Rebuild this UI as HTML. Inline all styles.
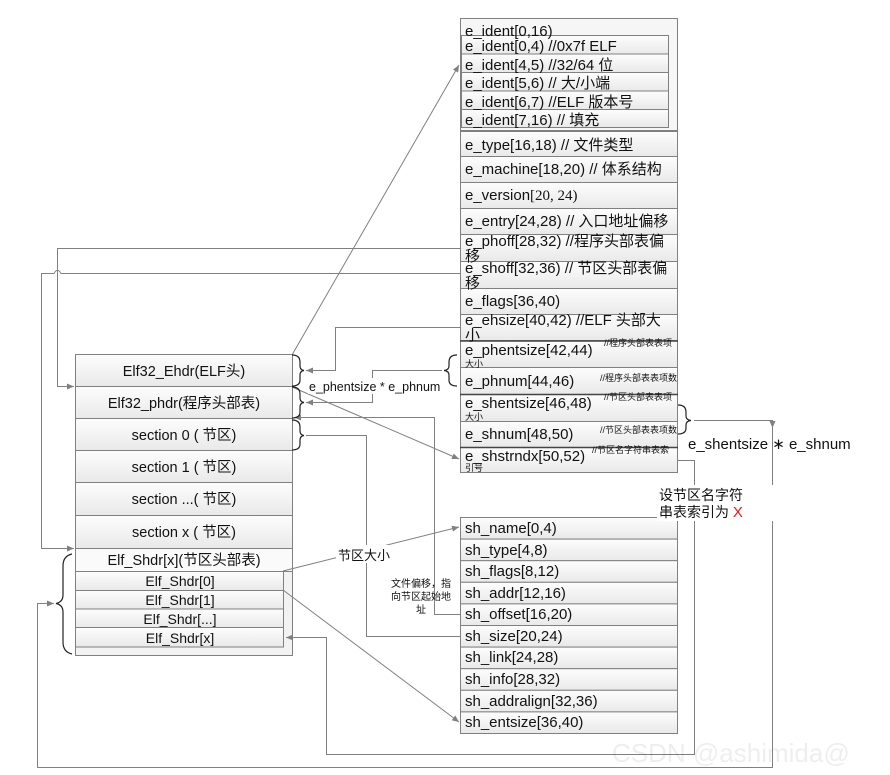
<!DOCTYPE html>
<html><head><meta charset="utf-8"><style>
html,body{margin:0;padding:0;background:#fff;width:890px;height:775px;overflow:hidden}
svg text{font-family:"Liberation Sans","Noto Sans CJK SC",sans-serif;fill:#111}
</style></head><body>
<svg width="890" height="775" viewBox="0 0 890 775" xmlns="http://www.w3.org/2000/svg">
<defs>
<linearGradient id="g" x1="0" y1="0" x2="0" y2="1"><stop offset="0" stop-color="#fdfdfd"/><stop offset="1" stop-color="#e9e9e9"/></linearGradient>
<marker id="a" markerWidth="8" markerHeight="8" refX="7" refY="4" orient="auto" markerUnits="userSpaceOnUse"><path d="M0,1 L7,4 L0,7 z" fill="#808080"/></marker>
</defs>
<g stroke="#808080" stroke-width="1" fill="url(#g)">
<rect x="460.5" y="18.5" width="217" height="112" fill="#f6f6f6"/>
<rect x="461.5" y="35.5" width="207" height="18.5"/>
<rect x="461.5" y="54" width="207" height="18.5"/>
<rect x="461.5" y="72.5" width="207" height="18.5"/>
<rect x="461.5" y="91" width="207" height="18.5"/>
<rect x="461.5" y="109.5" width="207" height="18"/>
<rect x="460.5" y="131.5" width="217" height="25"/>
<rect x="460.5" y="156.5" width="217" height="26"/>
<rect x="460.5" y="182.5" width="217" height="26"/>
<rect x="460.5" y="208.5" width="217" height="26"/>
<rect x="460.5" y="234.5" width="217" height="27"/>
<rect x="460.5" y="261.5" width="217" height="27"/>
<rect x="460.5" y="288.5" width="217" height="26"/>
<rect x="460.5" y="314.5" width="217" height="26"/>
<rect x="460.5" y="340.5" width="217" height="27"/>
<rect x="460.5" y="367.5" width="217" height="27"/>
<rect x="460.5" y="394.5" width="217" height="27"/>
<rect x="460.5" y="421.5" width="217" height="26"/>
<rect x="460.5" y="447.5" width="217" height="25"/>
<rect x="75.5" y="354.5" width="217" height="301" fill="#f2f2f2"/>
<rect x="75.5" y="354.5" width="217" height="32"/>
<rect x="75.5" y="386.5" width="217" height="32"/>
<rect x="75.5" y="418.5" width="217" height="32"/>
<rect x="75.5" y="450.5" width="217" height="32"/>
<rect x="75.5" y="482.5" width="217" height="33"/>
<rect x="75.5" y="515.5" width="217" height="33"/>
<rect x="75.5" y="548.5" width="217" height="23" fill="#fafafa"/>
<rect x="75.5" y="571.5" width="208" height="19"/>
<rect x="75.5" y="590.5" width="208" height="18.5"/>
<rect x="75.5" y="609" width="208" height="18.5"/>
<rect x="75.5" y="627.5" width="208" height="19.5"/>
<rect x="460.5" y="517.5" width="217" height="21.6"/>
<rect x="460.5" y="539.1" width="217" height="21.6"/>
<rect x="460.5" y="560.7" width="217" height="21.6"/>
<rect x="460.5" y="582.3" width="217" height="21.6"/>
<rect x="460.5" y="603.9" width="217" height="21.6"/>
<rect x="460.5" y="625.5" width="217" height="21.6"/>
<rect x="460.5" y="647.1" width="217" height="21.6"/>
<rect x="460.5" y="668.7" width="217" height="21.6"/>
<rect x="460.5" y="690.3" width="217" height="21.6"/>
<rect x="460.5" y="711.9" width="217" height="21.6"/>
</g>
<g stroke="#444" stroke-width="1.5"><line x1="460" y1="341" x2="678" y2="341"/><line x1="460" y1="394.5" x2="678" y2="394.5"/><line x1="460" y1="447.5" x2="678" y2="447.5"/></g>
<g stroke="#808080" stroke-width="1" fill="none">
<line x1="292" y1="355" x2="459" y2="65" marker-end="url(#a)"/>
<polyline points="460,248.5 57.5,248.5 57.5,386.5 74,386.5" marker-end="url(#a)"/>
<path d="M460,273.5 L61,273.5 Q57.5,267 54,273.5 L41.5,273.5 L41.5,548.5 L74,548.5" marker-end="url(#a)"/>
<polyline points="460,327.5 335.5,327.5 335.5,370.5 306,370.5" marker-end="url(#a)"/>
<polyline points="442,370.5 372.5,370.5 372.5,402.5 306,402.5" marker-end="url(#a)"/>
<polyline points="306,435.5 366.5,435.5 366.5,636.5 460,636.5"/>
<polyline points="460,614.5 434.5,614.5 434.5,417.5 294,417.5" marker-end="url(#a)"/>
<line x1="292" y1="387" x2="459" y2="459" marker-end="url(#a)"/>
<line x1="283" y1="571" x2="459" y2="527" marker-end="url(#a)"/>
<line x1="283" y1="590" x2="459" y2="722" marker-end="url(#a)"/>
<polyline points="678,460.5 694.5,460.5 694.5,754.5 326.5,754.5 326.5,637.5 286,637.5" marker-end="url(#a)"/>
<polyline points="694,420.5 772.5,420.5 772.5,767.5 37.5,767.5 37.5,603.5 54,603.5" marker-end="url(#a)"/>
<line x1="772.5" y1="420" x2="772.5" y2="428" marker-end="url(#a)"/>
</g>
<g stroke="#222" stroke-width="1.2" fill="none">
<path d="M292,355 Q300,355 300,362 L300,366 Q300,370 304,370.5 Q300,371 300,375 L300,380 Q300,386 292,386"/>
<path d="M292,387 Q300,387 300,394 L300,398 Q300,402 304,402.5 Q300,403 300,407 L300,412 Q300,418 292,418"/>
<path d="M292,420 Q300,420 300,427 L300,431 Q300,435 304,435.5 Q300,436 300,440 L300,444 Q300,450 292,450"/>
<path d="M457,355 Q449,355 449,362 L449,366 Q449,370 444,370.5 Q449,371 449,375 L449,380 Q449,386 457,386"/>
<path d="M678,405 Q686,405 686,412 L686,416 Q686,420 691,420.5 Q686,421 686,425 L686,428 Q686,434 678,434"/>
<path d="M72,554 Q63,556 63,566 L63,595 Q63,602 56,603.5 Q63,605 63,612 L63,642 Q63,652 72,654"/>
</g>
<g font-size="15">
<text x="465" y="36">e_ident[0,16)</text>
<text x="465" y="51">e_ident[0,4) //0x7f ELF</text>
<text x="465" y="70">e_ident[4,5) //32/64 位</text>
<text x="465" y="88">e_ident[5,6) // 大/小端</text>
<text x="465" y="107">e_ident[6,7) //ELF 版本号</text>
<text x="465" y="125">e_ident[7,16) // 填充</text>
<text x="465" y="150">e_type[16,18) // 文件类型</text>
<text x="465" y="174">e_machine[18,20) // 体系结构</text>
<text x="465" y="200">e_version<tspan font-family="Liberation Serif,serif">[20, 24)</tspan></text>
<text x="465" y="226">e_entry[24,28) // 入口地址偏移</text>
<text x="465" y="246">e_phoff[28,32) //程序头部表偏</text>
<text x="465" y="261">移</text>
<text x="465" y="273">e_shoff[32,36) // 节区头部表偏</text>
<text x="465" y="288">移</text>
<text x="465" y="306">e_flags[36,40)</text>
<text x="465" y="325">e_ehsize[40,42) //ELF 头部大</text>
<text x="465" y="340">小</text>
<text x="465" y="355">e_phentsize[42,44)</text>
<text x="465" y="386">e_phnum[44,46)</text>
<text x="465" y="408">e_shentsize[46,48)</text>
<text x="465" y="439">e_shnum[48,50)</text>
<text x="465" y="461">e_shstrndx[50,52)</text>
</g>
<g font-size="9" fill="#333">
<text x="604" y="346">//程序头部表表项</text><text x="465" y="367">大小</text>
<text x="600" y="381">//程序头部表表项数</text>
<text x="604" y="400">//节区头部表表项</text><text x="465" y="420">大小</text>
<text x="600" y="433">//节区头部表表项数</text>
<text x="592" y="453">//节区名字符串表索</text><text x="465" y="471">引号</text>
</g>
<g font-size="14.5" text-anchor="middle">
<text x="184" y="376">Elf32_Ehdr(ELF头)</text>
<text x="184" y="408">Elf32_phdr(程序头部表)</text>
<text x="184" y="440">section 0 ( 节区)</text>
<text x="184" y="472">section 1 ( 节区)</text>
<text x="184" y="504">section ...( 节区)</text>
<text x="184" y="537">section x ( 节区)</text>
<text x="184" y="565">Elf_Shdr[x](节区头部表)</text>
</g>
<g font-size="14" text-anchor="middle">
<text x="180" y="586">Elf_Shdr[0]</text>
<text x="180" y="605">Elf_Shdr[1]</text>
<text x="180" y="624">Elf_Shdr[...]</text>
<text x="180" y="643">Elf_Shdr[x]</text>
</g>
<g font-size="15">
<text x="465" y="533">sh_name[0,4)</text>
<text x="465" y="555">sh_type[4,8)</text>
<text x="465" y="576">sh_flags[8,12)</text>
<text x="465" y="598">sh_addr[12,16)</text>
<text x="465" y="619">sh_offset[16,20)</text>
<text x="465" y="641">sh_size[20,24)</text>
<text x="465" y="662">sh_link[24,28)</text>
<text x="465" y="684">sh_info[28,32)</text>
<text x="465" y="706">sh_addralign[32,36)</text>
<text x="465" y="727">sh_entsize[36,40)</text>
</g>
<rect x="308" y="378" width="134" height="16" fill="#fff"/>
<text x="309" y="391" font-size="12.5">e_phentsize * e_phnum</text>
<rect x="336" y="545" width="58" height="18" fill="#fff"/>
<text x="338" y="560" font-size="13" fill="#333">节区大小</text>
<g font-size="10" text-anchor="middle" fill="#333">
<text x="421" y="587">文件偏移，指</text>
<text x="421" y="600">向节区起始地</text>
<text x="421" y="613">址</text>
</g>
<text x="688" y="449" font-size="15">e_shentsize ∗ e_shnum</text>
<rect x="657" y="485" width="126" height="36" fill="#fff"/>
<text x="659" y="500" font-size="14" fill="#333">设节区名字符</text>
<text x="659" y="517" font-size="14" fill="#333">串表索引为 <tspan fill="#e02020" font-size="15">X</tspan></text>
<text x="612" y="762" font-size="26" fill="#000" fill-opacity="0.07">CSDN @ashimida@</text>
</svg>
</body></html>
